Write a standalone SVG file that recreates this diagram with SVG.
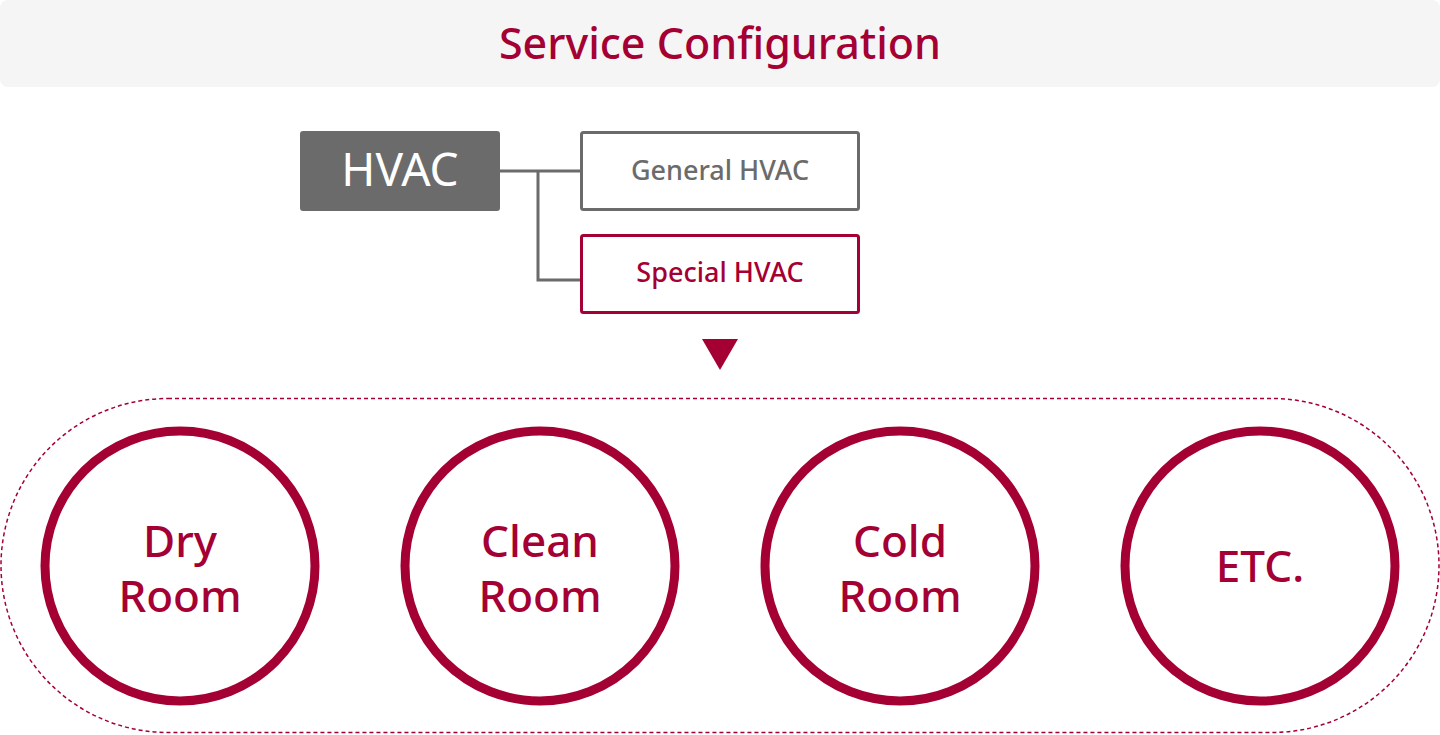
<svg xmlns="http://www.w3.org/2000/svg" width="1440" height="735" viewBox="0 0 1440 735">
<style>
text{font-family:"Noto Sans","Open Sans","Liberation Sans",sans-serif;text-anchor:middle;font-weight:500}
.c{fill:#fff;stroke:#a50034;stroke-width:9}
.ct{fill:#a50034;font-size:44px}
.ln{fill:none;stroke:#6b6b6b;stroke-width:3}
</style>
<rect width="1440" height="735" fill="#fff"/>
<g id="header"><rect x="0" y="0" width="1440" height="87" rx="8" fill="#f5f5f5"/>
<text x="720" y="59" font-size="43" fill="#a50034">Service Configuration</text></g>
<g id="connectors">
<path class="ln" d="M500 171H581M538 171V280H581"/>
<polygon points="702,339 738,339 720,370" fill="#a50034"/>
</g>
<g id="hvac"><rect x="300" y="131" width="200" height="80" rx="3" fill="#6b6b6b"/>
<text x="400" y="186" font-size="46" fill="#fff" style="font-weight:400">HVAC</text></g>
<g id="general"><rect x="581.5" y="132.5" width="277" height="77" rx="2" fill="#fff" stroke="#6b6b6b" stroke-width="3"/>
<text x="720" y="180" font-size="27" fill="#6b6b6b">General HVAC</text></g>
<g id="special"><rect x="581.5" y="235.5" width="277" height="77" rx="2" fill="#fff" stroke="#a50034" stroke-width="3"/>
<text x="720" y="282" font-size="27" fill="#a50034">Special HVAC</text></g>
<g id="group"><rect x="1" y="398.5" width="1438" height="334" rx="167" fill="none" stroke="#a50034" stroke-width="1.5" stroke-dasharray="4,3"/></g>
<g id="dry"><circle class="c" cx="180" cy="566" r="135"/><text class="ct" x="180" y="557">Dry</text><text class="ct" x="180" y="612">Room</text></g>
<g id="clean"><circle class="c" cx="540" cy="566" r="135"/><text class="ct" x="540" y="557">Clean</text><text class="ct" x="540" y="612">Room</text></g>
<g id="cold"><circle class="c" cx="900" cy="566" r="135"/><text class="ct" x="900" y="557">Cold</text><text class="ct" x="900" y="612">Room</text></g>
<g id="etc"><circle class="c" cx="1260" cy="566" r="135"/><text class="ct" x="1260" y="582">ETC.</text></g>
</svg>
